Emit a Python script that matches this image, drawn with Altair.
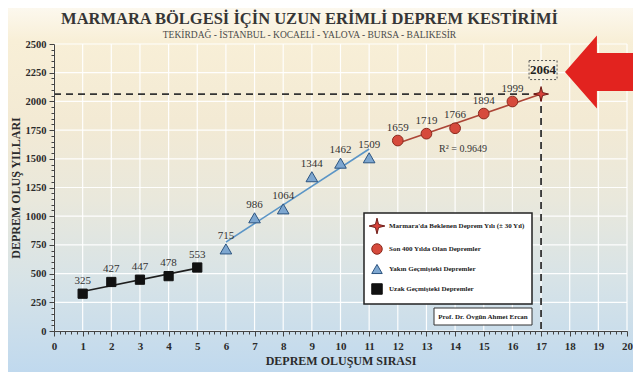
import json
import altair as alt
import pandas as pd

# ---------------- data ----------------
seq_far = [1, 2, 3, 4, 5]
year_far = [325, 427, 447, 478, 553]
seq_near = [6, 7, 8, 9, 10, 11]
year_near = [715, 986, 1064, 1344, 1462, 1509]
seq_recent = [12, 13, 14, 15, 16]
year_recent = [1659, 1719, 1766, 1894, 1999]
seq_expected = [17]
year_expected = [2064]
r2_text = "R² = 0.9649"
author_text = "Prof. Dr. Övgün Ahmet Ercan"
x_ticks = list(range(0, 21))
y_ticks = list(range(0, 2501, 250))
groups = [
    "Marmara'da Beklenen Deprem Yılı (± 30 Yıl)",
    "Son 400 Yılda Olan Depremler",
    "Yakın Geçmişteki Depremler",
    "Uzak Geçmişteki Depremler",
]

# ---------------- layout / style ----------------
W, H = 573, 287
PAD = {"left": 46, "top": 36, "right": 6, "bottom": 41}
SERIF = "Liberation Serif"
INK = "#2b2b2b"

df_far = pd.DataFrame({"seq": seq_far, "year": year_far, "group": groups[3]})
df_near = pd.DataFrame({"seq": seq_near, "year": year_near, "group": groups[2]})
df_recent = pd.DataFrame({"seq": seq_recent, "year": year_recent, "group": groups[1]})
df_exp = pd.DataFrame({"seq": seq_expected, "year": year_expected, "group": groups[0]})
df_all = pd.concat([df_far, df_near, df_recent, df_exp], ignore_index=True)
df_lab = pd.concat([df_far, df_near, df_recent], ignore_index=True)
dummy = pd.DataFrame({"a": [0]})

xscale = alt.Scale(domain=[0, 20], nice=False, zero=False)
yscale = alt.Scale(domain=[0, 2500], nice=False, zero=False)

common_axis = dict(
    grid=False, domainColor="#444", domainWidth=1, tickColor="#444", tickWidth=1,
    labelFont=SERIF, labelFontWeight="bold", labelColor=INK,
    titleFont=SERIF, titleFontSize=12, titleFontWeight="bold", titleColor=INK,
    labelOverlap=False, labelFlush=False, zindex=1,
)
xaxis = alt.Axis(
    title="DEPREM OLUŞUM SIRASI",
    values=[round(i * 0.2, 1) for i in range(101)],
    labelExpr="abs(datum.value - round(datum.value)) < 0.01 ? format(datum.value, 'd') : ''",
    tickSize={"condition": {"test": "abs(datum.value - round(datum.value)) < 0.01", "value": 5}, "value": 3},
    labelFontSize=11, labelPadding=4, titlePadding=4, **common_axis,
)
yaxis = alt.Axis(
    title="DEPREM OLUŞ YILLARI",
    values=list(range(0, 2501, 50)),
    labelExpr="datum.value % 250 === 0 ? format(datum.value, 'd') : ''",
    tickSize={"condition": {"test": "datum.value % 250 === 0", "value": 5}, "value": 3},
    labelFontSize=10.5, labelPadding=3, titlePadding=3, **common_axis,
)


def X(f):
    return alt.X(f"{f}:Q", scale=xscale, axis=xaxis)


def Y(f):
    return alt.Y(f"{f}:Q", scale=yscale, axis=yaxis)


# background gradient over the whole chart
grad = alt.LinearGradient(
    gradient="linear", x1=0, y1=0, x2=0, y2=1,
    stops=[
        alt.GradientStop(color="#fcf8ee", offset=0),
        alt.GradientStop(color="#f8efd7", offset=0.09),
        alt.GradientStop(color="#f3ead4", offset=0.31),
        alt.GradientStop(color="#e9e8dc", offset=0.53),
        alt.GradientStop(color="#d7e3e7", offset=0.75),
        alt.GradientStop(color="#c0d9ee", offset=1),
    ],
)
bg = alt.Chart(dummy).mark_rect(fill=grad).encode(
    x=alt.value(-PAD["left"]), x2=alt.value(W + PAD["right"]),
    y=alt.value(-PAD["top"]), y2=alt.value(H + PAD["bottom"]),
)

vgrid = alt.Chart(pd.DataFrame({"v": x_ticks})).mark_rule(
    color="white", strokeWidth=1.2, opacity=0.95).encode(x=X("v"))
hgrid = alt.Chart(pd.DataFrame({"v": y_ticks})).mark_rule(
    color="white", strokeWidth=1.2, opacity=0.95).encode(y=Y("v"))


def reg(df, extent, color):
    return alt.Chart(df).transform_regression("seq", "year", extent=extent).mark_line(
        color=color, strokeWidth=1.6).encode(x=X("seq"), y=Y("year"))


reg_far = reg(df_far, [1, 5], "#1f1f1f")
reg_near = reg(df_near, [6, 11], "#5b95c6")
reg_recent = reg(df_recent, [12, 17], "#ac4637")

hrule = alt.Chart(df_exp).transform_calculate(zero="0").mark_rule(
    color="#333", strokeWidth=1.8, strokeDash=[7, 5]).encode(
    x=X("zero"), x2=alt.X2("seq"), y=Y("year"))
vrule = alt.Chart(df_exp).transform_calculate(zero="0").mark_rule(
    color="#333", strokeWidth=1.8, strokeDash=[7, 5]).encode(
    x=X("seq"), y=Y("year"), y2=alt.Y2("zero"))

star_path = "M0,-1.5L0.3,-0.3L1.5,0L0.3,0.3L0,1.5L-0.3,0.3L-1.5,0L-0.3,-0.3Z"
shape_range = [star_path, "circle", "triangle-up", "square"]
fill_range = ["#d8413a", "#d64a3c", "#7ea7d0", "#111111"]
stroke_range = ["#6e1b16", "#8a2a1e", "#2c5480", "#111111"]
marker_size = {groups[0]: 100, groups[1]: 115, groups[2]: 135, groups[3]: 85}
size_expr = " : ".join(f"datum.group === {json.dumps(g)} ? {s}" for g, s in marker_size.items()) + " : 100"

points = alt.Chart(df_all).transform_calculate(msize=size_expr).mark_point(
    filled=True, opacity=1, strokeWidth=1).encode(
    x=X("seq"), y=Y("year"),
    shape=alt.Shape("group:N", scale=alt.Scale(domain=groups, range=shape_range), legend=alt.Legend(title=None)),
    fill=alt.Fill("group:N", scale=alt.Scale(domain=groups, range=fill_range), legend=alt.Legend(title=None)),
    stroke=alt.Stroke("group:N", scale=alt.Scale(domain=groups, range=stroke_range), legend=alt.Legend(title=None)),
    size=alt.Size("msize:Q", scale=None),
)

labels = alt.Chart(df_lab).mark_text(font=SERIF, fontSize=11, color="#333", dy=-13).encode(
    x=X("seq"), y=Y("year"), text=alt.Text("year:Q", format="d"))

box_path = "M-1,-0.68L1,-0.68L1,0.68L-1,0.68Z"
exp_box = alt.Chart(df_exp).mark_point(
    shape=box_path, size=784, filled=True, fill="#f6efdc", stroke="#555", strokeWidth=1,
    strokeDash=[2, 2], opacity=1, yOffset=-24, xOffset=2).encode(x=X("seq"), y=Y("year"))
exp_text = alt.Chart(df_exp).mark_text(
    font=SERIF, fontSize=13, fontWeight="bold", color="#222", yOffset=-24, dx=2, baseline="middle").encode(
    x=X("seq"), y=Y("year"), text=alt.Text("year:Q", format="d"))

arrow_path = "M-1,0L-0.16,-0.96L-0.16,-0.5L1,-0.5L1,0.5L-0.16,0.5L-0.16,0.96Z"
arrow = alt.Chart(dummy).mark_point(
    shape=arrow_path, size=5776, filled=True, fill="#e2231f", opacity=1, strokeWidth=0).encode(
    x=alt.value(549), y=alt.value(28))

r2 = alt.Chart(dummy).mark_text(text=r2_text, font=SERIF, fontSize=10, color="#333").encode(
    x=alt.value(409), y=alt.value(105))

author_box = alt.Chart(dummy).mark_rect(fill="white", stroke="#333", strokeWidth=1).encode(
    x=alt.value(380), x2=alt.value(478), y=alt.value(264), y2=alt.value(281))
author = alt.Chart(dummy).mark_text(
    text=author_text, font=SERIF, fontSize=7, fontWeight="bold", color="#222").encode(
    x=alt.value(429), y=alt.value(273))

chart = alt.layer(
    bg, vgrid, hgrid, reg_far, reg_near, reg_recent, hrule, vrule,
    points, labels, exp_box, exp_text, arrow, r2, author_box, author,
).properties(
    width=W, height=H, padding=PAD,
    autosize=alt.AutoSizeParams(type="none"),
    background="#f6efdc",
    title=alt.TitleParams(
        text="MARMARA BÖLGESİ İÇİN UZUN ERİMLİ DEPREM KESTİRİMİ",
        subtitle="TEKİRDAĞ - İSTANBUL - KOCAELİ - YALOVA - BURSA - BALIKESİR",
        font=SERIF, fontSize=16.5, fontWeight="bold", color="#363636",
        subtitleFont=SERIF, subtitleFontSize=9.5, subtitleColor="#4a4a4a", subtitlePadding=2,
        anchor="middle", frame="group", dx=-31, offset=-31, zindex=1,
    ),
).configure_view(stroke=None).configure_legend(
    orient="none", legendX=310, legendY=169, zindex=1,
    fillColor="white", strokeColor="#222", strokeWidth=1.5, padding=7,
    labelFont=SERIF, labelFontSize=7, labelFontWeight="bold", labelColor="#222",
    symbolSize=110, symbolStrokeWidth=1, rowPadding=5, labelOffset=6, labelLimit=300,
)

chart.save("out.html", embed_options={"renderer": "svg", "actions": False})
